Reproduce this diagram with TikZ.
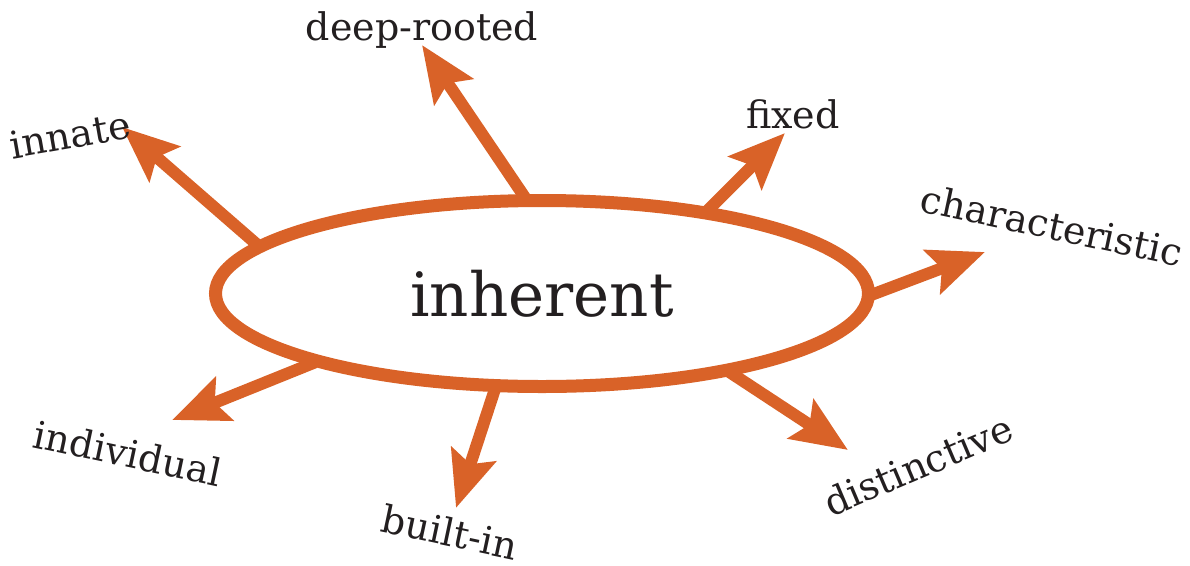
\documentclass[tikz,border=0pt]{standalone}
\usepackage{fontspec}
\setmainfont{DejaVu Serif}
\usetikzlibrary{arrows.meta,shapes.geometric}
\definecolor{orj}{HTML}{D96228}
\definecolor{txt}{HTML}{231F20}
\tikzset{
  arr/.style={draw=orj, line width=12pt, shorten <=-6pt,
    -{Stealth[length=56pt,width=46pt,inset=10pt]}},
  lbl/.style={text=txt, font=\fontsize{38}{40}\selectfont, inner sep=0pt},
}
\begin{document}
\begin{tikzpicture}[x=1pt,y=-1pt]
\useasboundingbox (0,0) rectangle (1190,565);
\node[ellipse, draw=orj, line width=13pt, minimum width=653pt, minimum height=186pt,
  inner sep=0pt, text=txt, font=\fontsize{61}{64}\selectfont] (c) at (542,293.5) {inherent};

\coordinate (tInnate) at (122,127);
\coordinate (tDeep) at (422,45);
\coordinate (tFixed) at (785,133);
\coordinate (tChar) at (985,252);
\coordinate (tDist) at (848,450);
\coordinate (tBuilt) at (456,508);
\coordinate (tIndiv) at (172,420);

\draw[arr] (c.170) -- (tInnate);
\draw[arr] (c.101.7) -- (tDeep);
\draw[arr] (c.27.7) -- (tFixed);
\draw[arr] (c.-0.6) -- (tChar);
\draw[arr] (c.-23.8) -- (tDist);
\draw[arr] (c.-116.4) -- (tBuilt);
\draw[arr] (c.-163.8) -- (tIndiv);

\node[lbl] (lDeep) at (422,30) {deep-rooted};
\node[lbl, rotate=10] (lInnate) at (70,135) {innate};
\node[lbl] (lFixed) at (793,114) {fixed};
\node[lbl, rotate=-12] (lChar) at (1052,225) {characteristic};
\node[lbl, rotate=23] (lDist) at (918,465) {distinctive};
\node[lbl, rotate=-12] (lBuilt) at (450,532) {built-in};
\node[lbl, rotate=-12] (lIndiv) at (128,453) {individual};
\end{tikzpicture}
\end{document}
